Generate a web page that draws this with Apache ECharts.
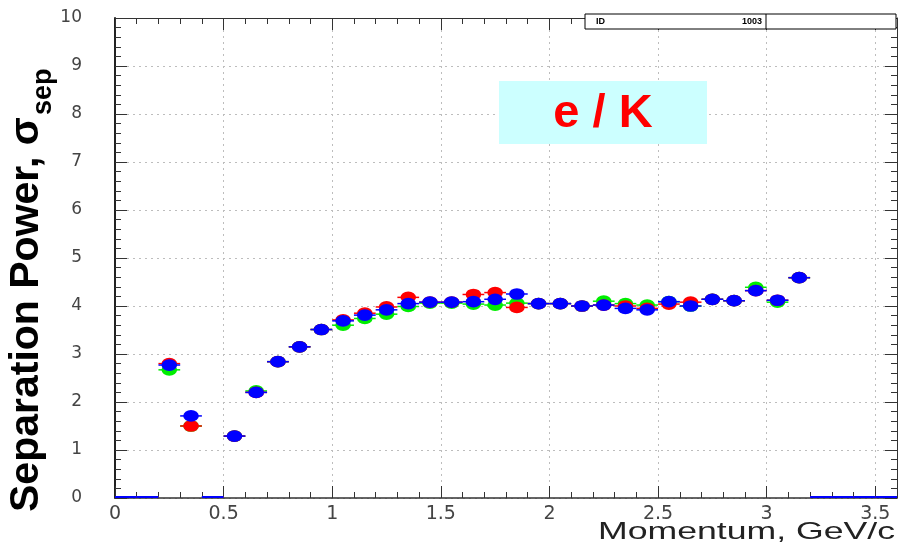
<!DOCTYPE html>
<html><head><meta charset="utf-8">
<script src="https://cdn.jsdelivr.net/npm/echarts@6/dist/echarts.min.js"></script>
<style>html,body{margin:0;padding:0;background:#fff}#c{width:899px;height:545px}</style>
</head><body><div id="c"></div>
<script>
var momentum = [0.05,0.15,0.25,0.35,0.45,0.55,0.65,0.75,0.85,0.95,1.05,1.15,1.25,1.35,1.45,1.55,1.65,1.75,1.85,1.95,2.05,2.15,2.25,2.35,2.45,2.55,2.65,2.75,2.85,2.95,3.05,3.15,3.25,3.35,3.45,3.55];
var greenVals = [0,0,2.67,1.5,0,1.29,2.23,2.84,3.15,3.51,3.6,3.74,3.83,3.99,4.06,4.06,4.04,4.02,4.06,4.05,4.05,4.0,4.1,4.05,4.02,4.09,4.0,4.14,4.11,4.39,4.08,4.59,0,0,0,0];
var redVals   = [0,0,2.8,1.5,0,1.29,2.2,2.84,3.15,3.51,3.71,3.85,3.98,4.18,4.08,4.08,4.24,4.28,3.97,4.05,4.05,4.0,4.02,4.0,3.95,4.04,4.08,4.14,4.11,4.32,4.12,4.59,0,0,0,0];
var blueVals  = [0,0,2.77,1.71,0,1.29,2.2,2.84,3.15,3.51,3.69,3.81,3.92,4.05,4.08,4.08,4.09,4.14,4.25,4.05,4.05,4.0,4.02,3.95,3.92,4.09,4.0,4.14,4.11,4.32,4.12,4.59,0,0,0,0];
var binHalfWidth = 0.05;
var xTitle = 'Momentum, GeV/c';
var yTitleMain = 'Separation Power, σ';
var yTitleSub = 'sep';
var boxLabel = 'e / K';
var idLabel = 'ID';
var idValue = '1003';

function pairs(vals){ return momentum.map(function(m,i){ return [m, vals[i]]; }); }
function measure(text, font){ var c=document.createElement('canvas').getContext('2d'); c.font=font; return c.measureText(text).width; }

function makeSeries(name, color, vals, z){
  return {
    type:'custom', name:name, z:z, data:pairs(vals),
    renderItem:function(params, api){
      var x=api.value(0), y=api.value(1);
      var p=api.coord([x,y]);
      var l=api.coord([x-binHalfWidth,y]);
      var r=api.coord([x+binHalfWidth,y]);
      if (y===0){
        return {type:'line', shape:{x1:l[0],y1:p[1]-1,x2:r[0],y2:p[1]-1}, style:{stroke:color,lineWidth:2}};
      }
      return {type:'group', children:[
        {type:'line', shape:{x1:l[0],y1:p[1],x2:r[0],y2:p[1]}, style:{stroke:color,lineWidth:1.5}},
        {type:'circle', x:p[0], y:p[1], scaleY:0.75, shape:{cx:0,cy:0,r:7.8}, style:{fill:color}}
      ]};
    }
  };
}

var axisCol = '#333';
var chart = echarts.init(document.getElementById('c'), null, {renderer:'canvas'});
var yMainFont = 'bold 41px "Liberation Sans", Arial, sans-serif';
var yMainW = measure(yTitleMain, yMainFont);
var xFont = '24px "Liberation Sans", Arial, sans-serif';
var xW = measure(xTitle, xFont);

chart.setOption({
  animation:false,
  grid:{left:115, right:2, top:18, bottom:47},
  xAxis:[{
    type:'value', min:0, max:3.6, interval:0.5, splitNumber:5,
    axisLine:{show:true, onZero:false, lineStyle:{color:axisCol, width:1.5}},
    axisTick:{show:true, inside:true, length:12, lineStyle:{color:axisCol}},
    minorTick:{show:true, splitNumber:5, length:6, lineStyle:{color:axisCol}},
    axisLabel:{show:true, showMaxLabel:false, margin:7, color:'#444', fontSize:19, fontFamily:'DejaVu Sans'},
    splitLine:{show:true, lineStyle:{color:'#bdbdbd', type:[2,4]}}
  },{
    type:'value', position:'top', min:0, max:3.6, interval:0.5,
    axisLine:{show:true, onZero:false, lineStyle:{color:axisCol}},
    axisTick:{show:true, inside:true, length:12, lineStyle:{color:axisCol}},
    minorTick:{show:true, splitNumber:5, length:6, lineStyle:{color:axisCol}},
    axisLabel:{show:false}, splitLine:{show:false}
  }],
  yAxis:[{
    type:'value', min:0, max:10, interval:1,
    axisLine:{show:true, onZero:false, lineStyle:{color:'#222', width:2}},
    axisTick:{show:true, inside:true, length:12, lineStyle:{color:axisCol}},
    minorTick:{show:true, splitNumber:5, length:6, lineStyle:{color:axisCol}},
    axisLabel:{show:true, margin:33, color:'#444', fontSize:17, fontFamily:'DejaVu Sans'},
    splitLine:{show:true, lineStyle:{color:'#bdbdbd', type:[2,4]}}
  },{
    type:'value', position:'right', min:0, max:10, interval:1,
    axisLine:{show:true, onZero:false, lineStyle:{color:axisCol}},
    axisTick:{show:true, inside:true, length:12, lineStyle:{color:axisCol}},
    minorTick:{show:true, splitNumber:5, length:6, lineStyle:{color:axisCol}},
    axisLabel:{show:false}, splitLine:{show:false}
  }],
  series:[
    makeSeries('green','#00ee00',greenVals,2),
    makeSeries('red','#ff0000',redVals,3),
    makeSeries('blue','#0000ff',blueVals,4)
  ],
  graphic:[
    {type:'rect', z:10, shape:{x:499,y:81,width:208,height:63}, style:{fill:'#ccffff'}},
    {type:'text', z:11, x:603, y:114, style:{text:boxLabel, font:'bold 47px "Liberation Sans", Arial, sans-serif', fill:'#ff0000', textAlign:'center', textVerticalAlign:'middle'}},
    {type:'rect', z:10, shape:{x:585,y:14,width:311,height:15}, style:{fill:'#fff', stroke:'#000', lineWidth:1}},
    {type:'line', z:11, shape:{x1:766,y1:14,x2:766,y2:29}, style:{stroke:'#000', lineWidth:1}},
    {type:'text', z:11, x:596, y:21.5, style:{text:idLabel, font:'bold 9px "Liberation Sans", Arial', fill:'#000', textAlign:'left', textVerticalAlign:'middle'}},
    {type:'text', z:11, x:762, y:21.5, style:{text:idValue, font:'bold 9px "Liberation Sans", Arial', fill:'#000', textAlign:'right', textVerticalAlign:'middle'}},
    {type:'text', z:11, x:27, y:512, rotation:Math.PI/2, style:{text:yTitleMain, font:yMainFont, fill:'#000', textAlign:'left', textVerticalAlign:'middle'}},
    {type:'text', z:11, x:44, y:512-yMainW-2, rotation:Math.PI/2, style:{text:yTitleSub, font:'bold 27px "Liberation Sans", Arial, sans-serif', fill:'#000', textAlign:'left', textVerticalAlign:'middle'}},
    {type:'text', z:11, x:895, y:532, scaleX:297/xW, style:{text:xTitle, font:xFont, fill:'#222', textAlign:'right', textVerticalAlign:'middle'}}
  ]
});
</script></body></html>
